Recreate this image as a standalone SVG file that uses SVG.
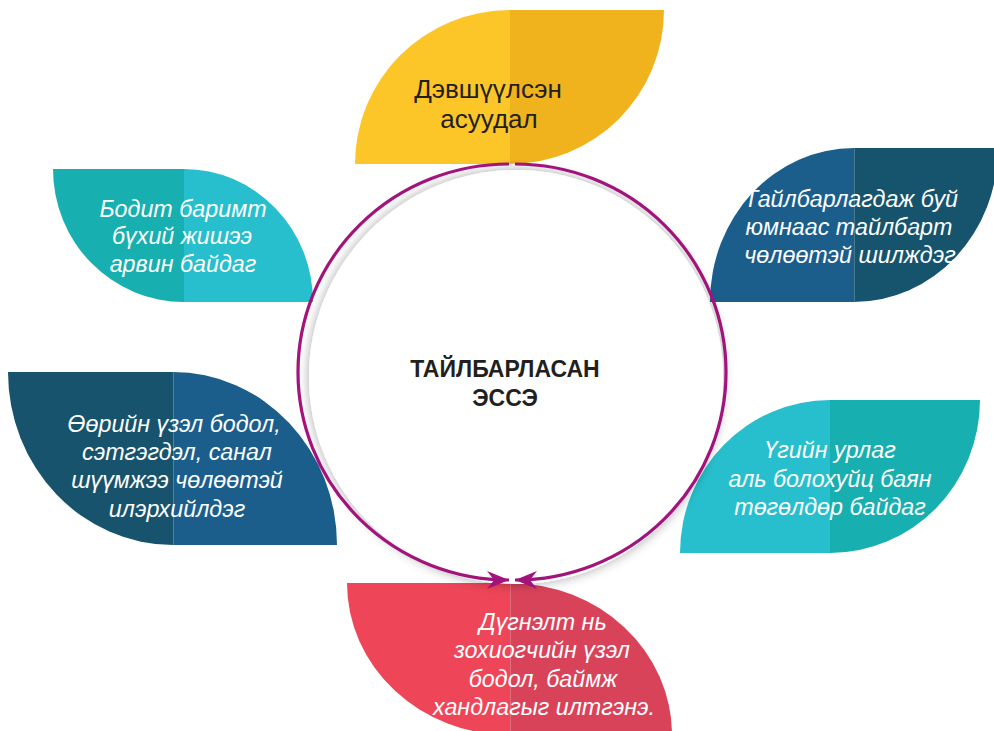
<svg xmlns="http://www.w3.org/2000/svg" width="994" height="731" viewBox="0 0 994 731">
<style>
.t{font-family:"Liberation Sans",Arial,sans-serif;font-style:italic;font-size:23.3px;fill:#ffffff;text-anchor:middle}
.dark{font-family:"Liberation Sans",Arial,sans-serif;font-size:26px;fill:#231F20;text-anchor:middle}
.title{font-family:"Liberation Sans",Arial,sans-serif;font-weight:bold;font-size:23px;fill:#231F20;text-anchor:middle}
.seam{stroke:#ffffff;stroke-opacity:0.22;stroke-width:1}
.conn{fill:none;stroke:#A2137B;stroke-width:3.2}
</style>
<defs>
<filter id="glow" x="-20%" y="-20%" width="140%" height="140%">
<feGaussianBlur in="SourceAlpha" stdDeviation="6"/>
<feComponentTransfer><feFuncA type="linear" slope="0.35"/></feComponentTransfer>
<feMerge><feMergeNode/><feMergeNode in="SourceGraphic"/></feMerge>
</filter>
<marker id="arrow" markerUnits="userSpaceOnUse" viewBox="-23 -10 24 20" refX="0" refY="0" markerWidth="24" markerHeight="20" orient="auto">
<path d="M0,0 L-22,-9 L-15,0 L-22,9 Z" fill="#A2137B"/>
</marker>
</defs>
<rect width="994" height="731" fill="#ffffff"/>

<g id="node-top">
<path d="M355,164 A155,154 0 0 1 510,10 L510,164 Z" fill="#FCC629"/>
<path d="M510,10 L664,10 A154,154 0 0 1 510,164 Z" fill="#F1B31D"/>
<text class="dark" x="488" y="98">Дэвшүүлсэн</text>
<text class="dark" x="489" y="128">асуудал</text>
</g>

<g id="node-top-right">
<path d="M710,302 A144,154 0 0 1 854,148 L854,302 Z" fill="#1B5E8C"/>
<path d="M854,148 L998,148 A144,154 0 0 1 854,302 Z" fill="#16546E"/>
<line class="seam" x1="854.5" y1="148" x2="854.5" y2="302"/>
<text class="t" x="851" y="207">Тайлбарлагдаж буй</text>
<text class="t" x="849" y="235">юмнаас тайлбарт</text>
<text class="t" x="850" y="263">чөлөөтэй шилждэг</text>
</g>

<g id="node-top-left">
<path d="M53,169 L184,169 L184,302 A131,133 0 0 1 53,169 Z" fill="#17AFAF"/>
<path d="M184,169 A129,133 0 0 1 313,302 L184,302 Z" fill="#27BFCD"/>
<text class="t" x="183" y="217">Бодит баримт</text>
<text class="t" x="182" y="244">бүхий жишээ</text>
<text class="t" x="183" y="272">арвин байдаг</text>
</g>

<g id="node-bottom-left">
<path d="M8,372 L173,372 L173,545 A165,173 0 0 1 8,372 Z" fill="#17536D"/>
<path d="M173,372 A164,173 0 0 1 337,545 L173,545 Z" fill="#1B5E8C"/>
<line class="seam" x1="173.5" y1="372" x2="173.5" y2="545"/>
<text class="t" x="174" y="432">Өөрийн үзэл бодол,</text>
<text class="t" x="177" y="460">сэтгэгдэл, санал</text>
<text class="t" x="177" y="488">шүүмжээ чөлөөтэй</text>
<text class="t" x="177" y="517">илэрхийлдэг</text>
</g>

<g id="node-bottom-right">
<path d="M680,553 A150,153 0 0 1 830,400 L830,553 Z" fill="#27BFCD"/>
<path d="M830,400 L980,400 A150,153 0 0 1 830,553 Z" fill="#17AFAF"/>
<text class="t" x="830" y="458">Үгийн урлаг</text>
<text class="t" x="830" y="487">аль болохуйц баян</text>
<text class="t" x="830" y="515">төгөлдөр байдаг</text>
</g>

<g id="node-bottom">
<path d="M347,583 L510,583 L510,735 A163,152 0 0 1 347,583 Z" fill="#EE4558"/>
<path d="M510,583 A162,152 0 0 1 672,735 L510,735 Z" fill="#D9435A"/>
<line class="seam" x1="510.5" y1="583" x2="510.5" y2="735"/>
<text class="t" x="543" y="630">Дүгнэлт нь</text>
<text class="t" x="542" y="658">зохиогчийн үзэл</text>
<text class="t" x="543" y="687">бодол, баймж</text>
<text class="t" x="544" y="715">хандлагыг илтгэнэ.</text>
</g>

<g id="node-center">
<circle cx="516" cy="377" r="207" fill="#ffffff" filter="url(#glow)"/>
<text class="title" x="505" y="377">ТАЙЛБАРЛАСАН</text>
<text class="title" x="505" y="406">ЭССЭ</text>
</g>

<g id="connectors">
<path class="conn" d="M509,164 A211,208 0 0 0 509,580" marker-end="url(#arrow)"/>
<path class="conn" d="M515,164 A211,208 0 0 1 515,580" marker-end="url(#arrow)"/>
</g>
</svg>
